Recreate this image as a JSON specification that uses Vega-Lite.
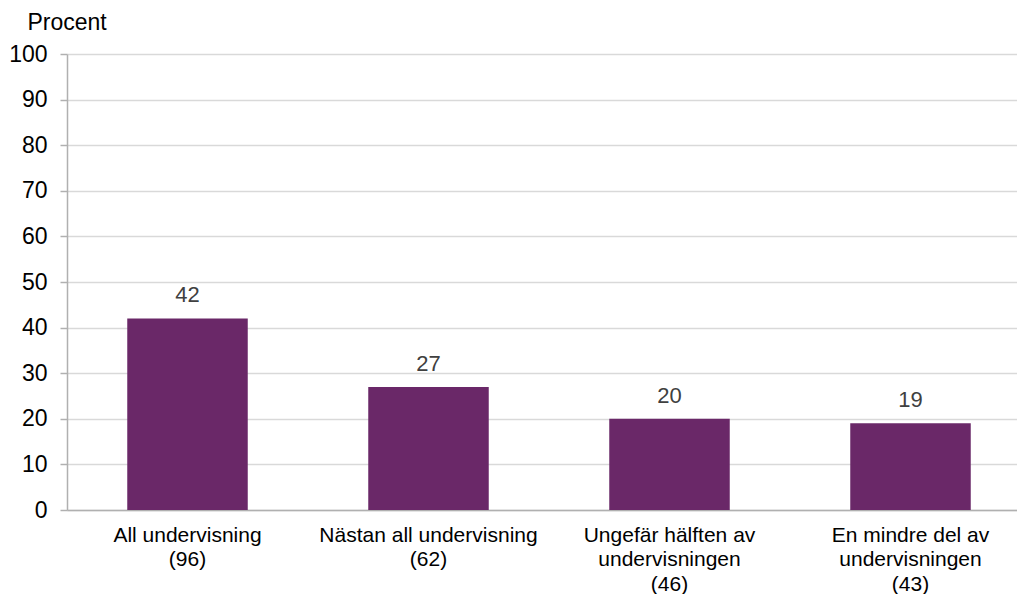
{
  "$schema": "https://vega.github.io/schema/vega-lite/v6.json",
  "autosize": "none",
  "width": 950,
  "height": 456,
  "padding": {"left": 67, "top": 54, "right": 0, "bottom": 84},
  "background": "white",
  "config": {
    "view": {"stroke": null},
    "font": "Liberation Sans"
  },
  "data": {
    "values": [
      {"kategori": "All undervisning|(96)", "procent": 42},
      {"kategori": "Nästan all undervisning|(62)", "procent": 27},
      {"kategori": "Ungefär hälften av|undervisningen|(46)", "procent": 20},
      {"kategori": "En mindre del av|undervisningen|(43)", "procent": 19}
    ]
  },
  "encoding": {
    "x": {
      "field": "kategori",
      "type": "nominal",
      "sort": null,
      "scale": {"range": [0, 964], "paddingInner": 0.5, "paddingOuter": 0.25},
      "axis": {
        "title": null,
        "labelAngle": 0,
        "labelExpr": "split(datum.label, '|')",
        "labelFont": "Liberation Sans",
        "labelFontSize": 21,
        "labelLineHeight": 24.5,
        "labelLimit": 0,
        "labelColor": "#000000",
        "labelPadding": 14,
        "ticks": false,
        "domainColor": "#b0b0b0",
        "domainWidth": 1.5,
        "grid": false
      }
    },
    "y": {
      "field": "procent",
      "type": "quantitative",
      "scale": {"domain": [0, 100], "nice": false},
      "axis": {
        "values": [0, 10, 20, 30, 40, 50, 60, 70, 80, 90, 100],
        "title": "Procent",
        "titleAngle": 0,
        "titleAlign": "left",
        "titleBaseline": "alphabetic",
        "titleX": -40,
        "titleY": -25,
        "titleFont": "Liberation Sans",
        "titleFontSize": 23,
        "titleFontWeight": "normal",
        "titleColor": "#000000",
        "labelFont": "Liberation Sans",
        "labelFontSize": 23,
        "labelColor": "#000000",
        "labelPadding": 13,
        "tickSize": 7,
        "tickColor": "#b0b0b0",
        "tickWidth": 1.5,
        "domainColor": "#b0b0b0",
        "domainWidth": 1.5,
        "gridColor": "#d9d9d9",
        "gridWidth": 1.5
      }
    }
  },
  "layer": [
    {"mark": {"type": "bar", "color": "#6a2868"}},
    {
      "mark": {
        "type": "text",
        "baseline": "alphabetic",
        "dy": -16,
        "font": "Liberation Sans",
        "fontSize": 22,
        "color": "#404040"
      },
      "encoding": {"text": {"field": "procent", "type": "quantitative"}}
    }
  ]
}
